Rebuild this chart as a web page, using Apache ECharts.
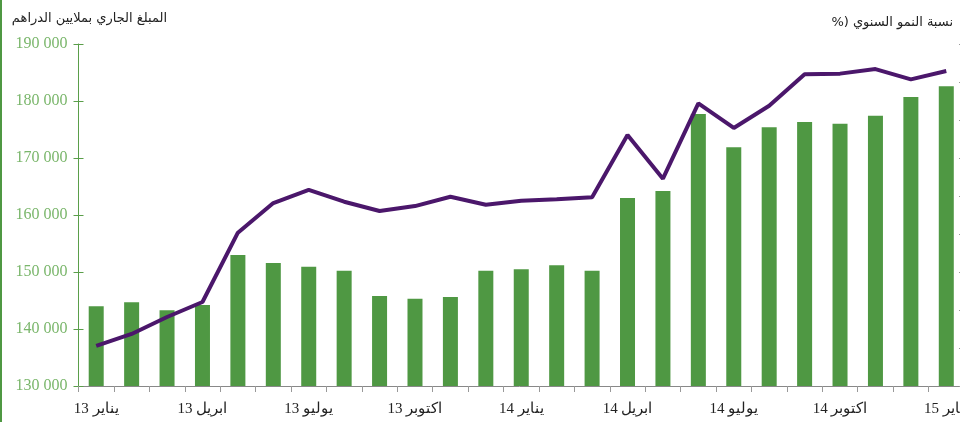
<!DOCTYPE html>
<html>
<head>
<meta charset="utf-8">
<script src="https://cdn.jsdelivr.net/npm/echarts@6/dist/echarts.min.js"></script>
<style>
html,body{margin:0;padding:0;background:#fff;}
#chart{width:960px;height:422px;}
</style>
</head>
<body>
<div id="chart"></div>
<script>
var categories = [
  "يناير 13","فبراير 13","مارس 13","ابريل 13","ماي 13","يونيو 13","يوليو 13","غشت 13","شتنبر 13","اكتوبر 13","نونبر 13","دجنبر 13",
  "يناير 14","فبراير 14","مارس 14","ابريل 14","ماي 14","يونيو 14","يوليو 14","غشت 14","شتنبر 14","اكتوبر 14","نونبر 14","دجنبر 14",
  "يناير 15"
];
var amounts = [144000,144700,143300,144200,153000,151600,150900,150200,145800,145300,145600,150200,
  150500,151200,150200,163000,164200,177700,171900,175400,176300,176000,177400,180700,182600];
var growth = [2.11,2.74,3.63,4.42,8.07,9.63,10.32,9.70,9.21,9.47,9.96,9.54,
  9.75,9.83,9.93,13.21,10.91,14.88,13.58,14.75,16.41,16.44,16.68,16.14,16.58];
var leftTicks = {min:130000, max:190000, interval:10000};
var rightTicks = {min:0, max:18, interval:2};
var titleLeft = "المبلغ الجاري بملايين الدراهم";
var titleRight = "نسبة النمو السنوي";
var titleRightUnit = "%)";

var titleFont = "13px 'DejaVu Sans', sans-serif";
var mctx = document.createElement('canvas').getContext('2d');
mctx.font = titleFont;
var rightW = mctx.measureText(titleRight).width;

var chart = echarts.init(document.getElementById('chart'), null, {renderer:'canvas'});
var serif = "'Liberation Serif', 'DejaVu Serif', serif";
chart.setOption({
  animation:false,
  backgroundColor:'#ffffff',
  grid:{left:78.5, right:-4, top:44, bottom:36, containLabel:false, outerBoundsMode:'none'},
  graphic:[
    {type:'rect', shape:{x:0,y:0,width:2,height:422}, style:{fill:'#4f9843'}},
    {type:'text', x:167, y:12, style:{text:titleLeft, font:titleFont, fill:'#222', align:'right', textAlign:'right'}},
    {type:'text', x:953, y:16, style:{text:titleRight, font:titleFont, fill:'#222', align:'right', textAlign:'right'}},
    {type:'text', x:953 - rightW - 4, y:16, style:{text:titleRightUnit, font:titleFont, fill:'#222', align:'right', textAlign:'right'}}
  ],
  xAxis:{
    type:'category', data:categories, boundaryGap:true,
    axisLine:{show:true, lineStyle:{color:'#888', width:1}},
    axisTick:{show:true, interval:0, length:6, lineStyle:{color:'#999'}},
    axisLabel:{interval:2, margin:16, color:'#222', fontSize:15, fontFamily:serif},
    splitLine:{show:false}
  },
  yAxis:[
    {type:'value', position:'left', min:leftTicks.min, max:leftTicks.max, interval:leftTicks.interval,
     axisLine:{show:true, lineStyle:{color:'#5a9e4a', width:1}},
     axisTick:{show:true, length:5, lineStyle:{color:'#5a9e4a'}},
     axisLabel:{margin:11, color:'#7ab66b', fontSize:16, fontFamily:serif,
       formatter:function(v){return String(v).replace(/\B(?=(\d{3})+(?!\d))/g,' ');}},
     splitLine:{show:false}},
    {type:'value', position:'right', min:rightTicks.min, max:rightTicks.max, interval:rightTicks.interval,
     axisLine:{show:false},
     axisTick:{show:true, inside:true, length:5, lineStyle:{color:'#999'}},
     axisLabel:{show:false}, splitLine:{show:false}},
    {type:'value', position:'left', min:leftTicks.min, max:leftTicks.max, interval:leftTicks.interval,
     axisLine:{show:false},
     axisTick:{show:true, inside:true, length:5, lineStyle:{color:'#5a9e4a'}},
     axisLabel:{show:false}, splitLine:{show:false}}
  ],
  series:[
    {type:'bar', yAxisIndex:0, data:amounts, barWidth:15, itemStyle:{color:'#4f9843'}},
    {type:'line', yAxisIndex:1, data:growth, symbol:'none', smooth:false, z:5,
     lineStyle:{color:'#4b176b', width:4}}
  ]
});
</script>
</body>
</html>
